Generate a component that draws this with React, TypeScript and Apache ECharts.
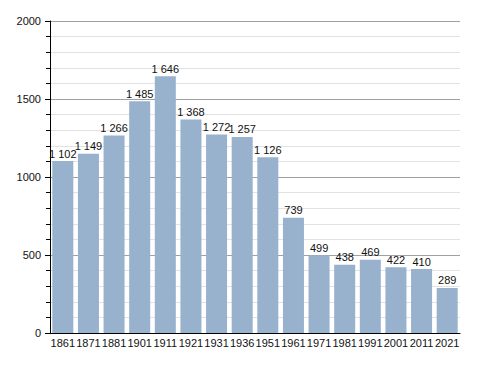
import React, { useEffect, useRef } from "react";
import * as echarts from "echarts";

const years = ["1861", "1871", "1881", "1901", "1911", "1921", "1931", "1936", "1951", "1961", "1971", "1981", "1991", "2001", "2011", "2021"];
const population = [1102, 1149, 1266, 1485, 1646, 1368, 1272, 1257, 1126, 739, 499, 438, 469, 422, 410, 289];

const fmt = (v: number) => {
  const s = String(v);
  return s.length > 3 ? s.slice(0, s.length - 3) + " " + s.slice(-3) : s;
};

export default function App() {
  const ref = useRef<HTMLDivElement>(null);
  useEffect(() => {
    const chart = echarts.init(ref.current!, undefined, { renderer: "svg" });
    const font = "'Liberation Sans', Arial, sans-serif";
    chart.setOption({
      animation: false,
      backgroundColor: "#ffffff",
      grid: { left: 50, right: 28, top: 21, bottom: 40 },
      xAxis: {
        type: "category",
        data: years,
        axisLine: { show: true, lineStyle: { color: "#000", width: 1 } },
        axisTick: { show: false },
        axisLabel: { color: "#111", fontSize: 11, fontFamily: font, margin: 4, interval: 0 },
      },
      yAxis: {
        type: "value",
        min: 0,
        max: 2000,
        interval: 500,
        axisLine: { show: true, lineStyle: { color: "#000", width: 1 } },
        axisTick: { show: true, length: 5, lineStyle: { color: "#000" } },
        minorTick: { show: true, splitNumber: 5, length: 4, lineStyle: { color: "#000" } },
        axisLabel: { color: "#111", fontSize: 11, fontFamily: font, margin: 9, formatter: (v: number) => String(v) },
        splitLine: { show: true, lineStyle: { color: "#a0a0a0", width: 1 } },
        minorSplitLine: { show: true, lineStyle: { color: "#e2e2e2", width: 1 } },
      },
      series: [
        {
          type: "bar",
          data: population,
          barCategoryGap: "18%",
          itemStyle: { color: "#98b1cc" },
          label: {
            show: true,
            position: "top",
            distance: 2,
            color: "#111",
            fontSize: 11,
            fontFamily: font,
            formatter: (p: any) => fmt(p.value),
          },
        },
      ],
    });
    return () => chart.dispose();
  }, []);
  return <div ref={ref} style={{ position: "fixed", left: 0, top: 0, width: 488, height: 373 }} />;
}
